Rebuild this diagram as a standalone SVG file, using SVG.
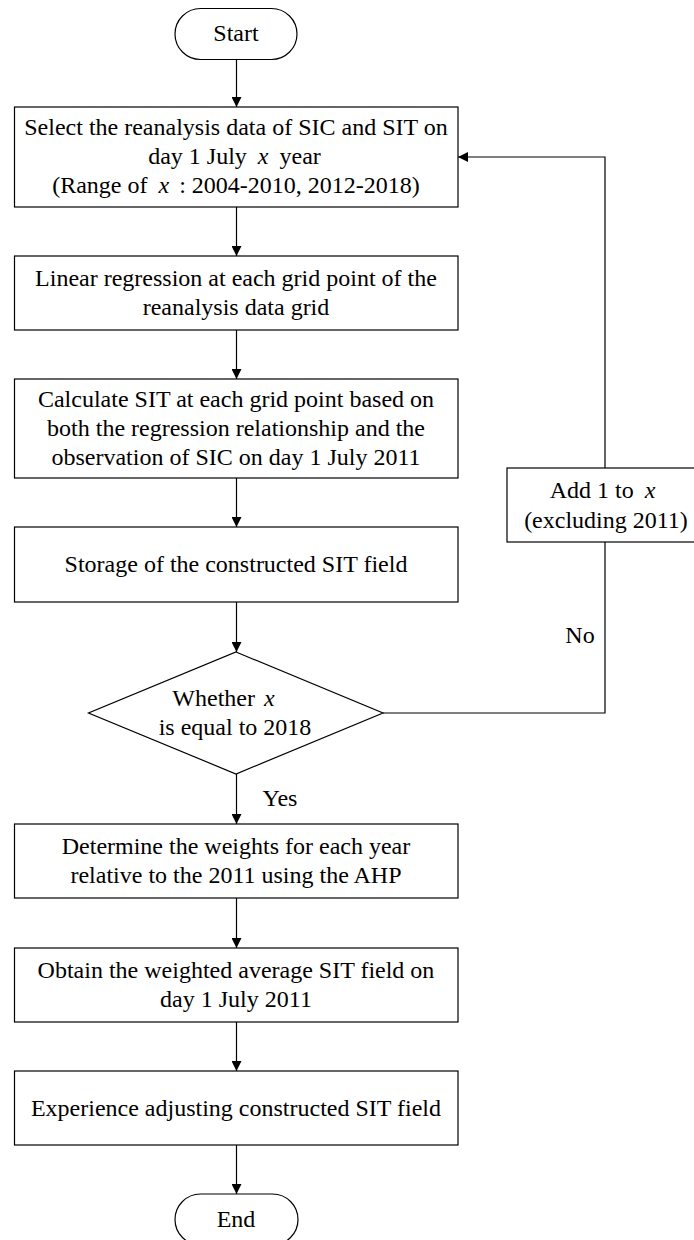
<svg xmlns="http://www.w3.org/2000/svg" width="694" height="1240" viewBox="0 0 694 1240">
<style>
.n{fill:#fff;stroke:#000;stroke-width:1.2}
.t{font-family:"Liberation Serif","Times New Roman",serif;font-size:24px;fill:#000;text-anchor:middle}
.m{font-style:italic}
.c{fill:none;stroke:#000;stroke-width:1.2}
</style>
<defs>
<marker id="ah" viewBox="0 0 10 10" refX="10" refY="5" markerWidth="10" markerHeight="10" markerUnits="userSpaceOnUse" orient="auto">
<path d="M0,0 L10,5 L0,10 Z" fill="#000"/>
</marker>
</defs>
<rect width="694" height="1240" fill="#fff"/>
<g id="connectors">
<path class="c" d="M236.5,59 V107" marker-end="url(#ah)"/>
<path class="c" d="M236.5,207 V256" marker-end="url(#ah)"/>
<path class="c" d="M236.5,330 V379" marker-end="url(#ah)"/>
<path class="c" d="M236.5,478 V527" marker-end="url(#ah)"/>
<path class="c" d="M236.5,602 V652" marker-end="url(#ah)"/>
<path class="c" d="M236.5,774 V824" marker-end="url(#ah)"/>
<path class="c" d="M236.5,898 V948" marker-end="url(#ah)"/>
<path class="c" d="M236.5,1022 V1071" marker-end="url(#ah)"/>
<path class="c" d="M236.5,1145 V1194" marker-end="url(#ah)"/>
<path class="c" d="M383,713 H605 V542"/>
<path class="c" d="M605,468 V157 H458" marker-end="url(#ah)"/>
<text class="t" x="580" y="643">No</text>
<text class="t" x="280" y="806">Yes</text>
</g>
<g id="start">
<rect class="n" x="175" y="8.5" width="122" height="51" rx="25.5"/>
<text class="t" x="236" y="41">Start</text>
</g>
<g id="select">
<rect class="n" x="14.5" y="107" width="443.5" height="100"/>
<text class="t" x="236" y="135">Select the reanalysis data of SIC and SIT on</text>
<text class="t" x="234.5" y="164">day 1 July <tspan class="m" dx="5">x</tspan><tspan dx="5"> year</tspan></text>
<text class="t" x="236" y="193">(Range of <tspan class="m" dx="5">x</tspan><tspan dx="4"> : 2004-2010, 2012-2018)</tspan></text>
</g>
<g id="regression">
<rect class="n" x="14.5" y="256" width="443.5" height="74"/>
<text class="t" x="236" y="286">Linear regression at each grid point of the</text>
<text class="t" x="236" y="315">reanalysis data grid</text>
</g>
<g id="calculate">
<rect class="n" x="14.5" y="379" width="443.5" height="99"/>
<text class="t" x="236" y="407">Calculate SIT at each grid point based on</text>
<text class="t" x="236" y="436">both the regression relationship and the</text>
<text class="t" x="236" y="465">observation of SIC on day 1 July 2011</text>
</g>
<g id="storage">
<rect class="n" x="14.5" y="527" width="443.5" height="75"/>
<text class="t" x="236" y="572">Storage of the constructed SIT field</text>
</g>
<g id="decision">
<polygon class="n" points="236,652 383,713 236,774 88.5,713"/>
<text class="t" x="223.5" y="706">Whether <tspan class="m" dx="3">x</tspan></text>
<text class="t" x="235" y="735">is equal to 2018</text>
</g>
<g id="add">
<rect class="n" x="507" y="468" width="196" height="74"/>
<text class="t" x="602.5" y="498">Add 1 to <tspan class="m" dx="5">x</tspan></text>
<text class="t" x="606" y="528">(excluding 2011)</text>
</g>
<g id="weights">
<rect class="n" x="14.5" y="824" width="443.5" height="74"/>
<text class="t" x="236" y="854">Determine the weights for each year</text>
<text class="t" x="236" y="883">relative to the 2011 using the AHP</text>
</g>
<g id="average">
<rect class="n" x="14.5" y="948" width="443.5" height="74"/>
<text class="t" x="236" y="978">Obtain the weighted average SIT field on</text>
<text class="t" x="236" y="1007">day 1 July 2011</text>
</g>
<g id="adjust">
<rect class="n" x="14.5" y="1071" width="443.5" height="74"/>
<text class="t" x="236" y="1116">Experience adjusting constructed SIT field</text>
</g>
<g id="end">
<rect class="n" x="175" y="1194" width="123" height="51" rx="25.5"/>
<text class="t" x="236" y="1227">End</text>
</g>
</svg>
